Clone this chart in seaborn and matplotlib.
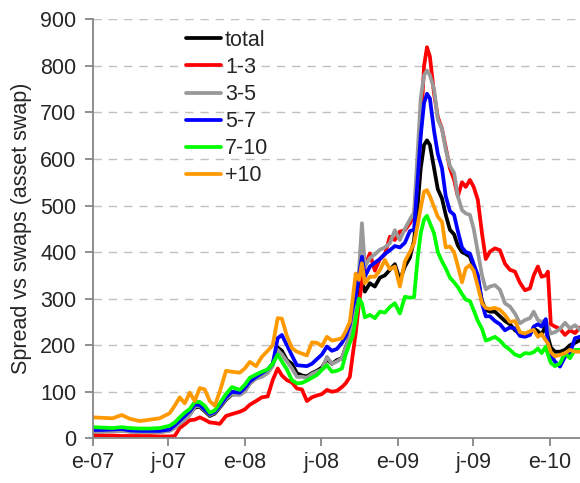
import matplotlib
matplotlib.use("Agg")
import matplotlib.pyplot as plt
import matplotlib.dates as mdates
from matplotlib.ticker import FuncFormatter
import seaborn as sns
import pandas as pd

dates = [
    "2007-01-01", "2007-01-24", "2007-02-17", "2007-03-11", "2007-03-30", "2007-04-23",
    "2007-05-17", "2007-06-10", "2007-07-04", "2007-07-16", "2007-07-28", "2007-08-09",
    "2007-08-21", "2007-09-02", "2007-09-14", "2007-09-26", "2007-10-08", "2007-10-20",
    "2007-11-01", "2007-11-16", "2007-11-30", "2007-12-19", "2007-12-31", "2008-01-12",
    "2008-01-27", "2008-02-10", "2008-02-24", "2008-03-07", "2008-03-19", "2008-03-29",
    "2008-04-10", "2008-04-22", "2008-05-04", "2008-05-16", "2008-05-28", "2008-06-09",
    "2008-06-21", "2008-07-03", "2008-07-15", "2008-07-27", "2008-08-08", "2008-08-20",
    "2008-08-29", "2008-09-08", "2008-09-15", "2008-09-22", "2008-09-30", "2008-10-07",
    "2008-10-14", "2008-10-26", "2008-11-07", "2008-11-19", "2008-12-01", "2008-12-13",
    "2008-12-25", "2009-01-06", "2009-01-18", "2009-01-30", "2009-02-09", "2009-02-18",
    "2009-02-25", "2009-03-05", "2009-03-12", "2009-03-19", "2009-03-29", "2009-04-07",
    "2009-04-17", "2009-04-26", "2009-05-06", "2009-05-16", "2009-05-25", "2009-06-04",
    "2009-06-13", "2009-06-23", "2009-07-02", "2009-07-12", "2009-07-22", "2009-07-31",
    "2009-08-10", "2009-08-22", "2009-09-03", "2009-09-15", "2009-09-27", "2009-10-09",
    "2009-10-21", "2009-11-02", "2009-11-14", "2009-11-23", "2009-12-03", "2009-12-12",
    "2009-12-22", "2009-12-27", "2010-01-03", "2010-01-13", "2010-01-25", "2010-02-06",
    "2010-02-18", "2010-03-02", "2010-03-14",
]

total = [15, 15, 16, 17, 15, 14, 14, 14, 17, 25, 34, 43, 52, 66, 68, 58, 48, 53, 66, 83,
         94, 95, 102, 118, 130, 137, 143, 160, 195, 188, 168, 160, 140, 135, 133, 140, 145,
         152, 170, 160, 168, 172, 195, 218, 250, 295, 320, 338, 315, 333, 326, 345, 350, 362,
         374, 340, 369, 388, 425, 505, 580, 630, 640, 630, 580, 535, 515, 480, 448, 438, 414,
         400, 396, 390, 367, 342, 295, 276, 272, 272, 262, 252, 245, 232, 225, 222, 225, 236,
         230, 222, 243, 218, 195, 186, 186, 190, 200, 205, 211]

y1_3 = [7, 6, 6, 5, 5, 5, 5, 4, 4, 5, 22, 30, 39, 40, 45, 40, 34, 33, 31, 48,
        52, 57, 62, 72, 80, 88, 90, 125, 150, 135, 125, 120, 107, 105, 80, 88, 92,
        95, 104, 100, 102, 110, 118, 132, 180, 225, 290, 335, 369, 397, 360, 385, 395, 433,
        426, 444, 447, 462, 480, 560, 660, 800, 840, 820, 740, 690, 665, 625, 580, 555, 520,
        550, 540, 555, 540, 512, 440, 385, 401, 408, 404, 375, 362, 358, 334, 318, 322, 350,
        369, 347, 350, 358, 245, 240, 235, 222, 232, 226, 238]

y3_5 = [14, 14, 15, 16, 14, 13, 13, 13, 16, 22, 32, 40, 50, 68, 70, 60, 50, 55, 68, 85,
        95, 93, 100, 118, 128, 132, 140, 155, 190, 180, 165, 150, 132, 132, 130, 138, 143,
        148, 175, 160, 165, 172, 195, 218, 260, 305, 360, 462, 369, 387, 395, 405, 410, 419,
        447, 426, 450, 470, 485, 620, 730, 780, 790, 780, 750, 685, 665, 620, 585, 570, 520,
        490, 483, 480, 450, 400, 350, 320, 326, 329, 319, 290, 283, 268, 247, 254, 258, 272,
        254, 250, 254, 240, 225, 228, 235, 248, 236, 243, 233]

y5_7 = [18, 18, 19, 20, 17, 16, 16, 16, 19, 28, 38, 48, 58, 72, 72, 62, 52, 57, 70, 88,
        100, 98, 108, 122, 132, 140, 148, 160, 215, 222, 200, 178, 157, 156, 155, 160, 170,
        180, 197, 188, 192, 205, 218, 245, 280, 305, 350, 390, 347, 369, 377, 385, 396, 404,
        413, 410, 420, 445, 448, 560, 650, 720, 740, 730, 660, 611, 580, 520, 488, 480, 445,
        410, 400, 397, 374, 350, 290, 262, 262, 252, 245, 232, 238, 236, 220, 218, 222, 240,
        245, 240, 256, 200, 178, 165, 154, 175, 183, 215, 218]

y7_10 = [24, 23, 22, 24, 22, 21, 21, 22, 27, 34, 45, 55, 63, 78, 78, 70, 55, 60, 75, 95,
         110, 104, 115, 130, 137, 143, 148, 160, 180, 165, 148, 125, 118, 119, 124, 130, 136,
         147, 157, 143, 145, 150, 180, 205, 220, 255, 300, 290, 260, 265, 258, 272, 270, 282,
         290, 268, 304, 302, 303, 390, 440, 470, 478, 462, 440, 400, 380, 365, 345, 335, 325,
         310, 298, 295, 275, 252, 235, 210, 213, 218, 210, 198, 190, 180, 176, 183, 182, 185,
         193, 183, 197, 180, 162, 155, 161, 183, 172, 190, 190]

y10p = [45, 44, 43, 50, 42, 37, 40, 43, 54, 70, 88, 75, 98, 80, 108, 105, 80, 70, 100, 145,
        143, 141, 150, 164, 155, 175, 188, 200, 258, 257, 220, 194, 186, 182, 178, 206, 205,
        198, 218, 210, 212, 215, 230, 250, 300, 354, 340, 376, 333, 347, 347, 361, 383, 363,
        369, 326, 380, 400, 419, 460, 495, 530, 533, 520, 497, 476, 465, 410, 412, 400, 370,
        335, 365, 372, 360, 326, 290, 280, 278, 280, 276, 265, 250, 252, 228, 225, 230, 233,
        218, 224, 210, 204, 185, 176, 179, 183, 190, 186, 186]

labels = ["total", "1-3", "3-5", "5-7", "7-10", "+10"]
colors = ["#000000", "#FF0000", "#999999", "#0000FF", "#00FF00", "#FF9900"]
series = [total, y1_3, y3_5, y5_7, y7_10, y10p]

sns.set_style("white")
plt.rcParams["font.family"] = ["Liberation Sans", "DejaVu Sans"]

fig = plt.figure(figsize=(5.8, 4.83), dpi=100)
ax = fig.add_axes([93 / 580, (483 - 438.3) / 483, 1 - 93 / 580, (438.3 - 19.3) / 483])

dt = pd.to_datetime(dates)
for lab, col, vals in zip(labels, colors, series):
    sns.lineplot(x=dt, y=vals, ax=ax, color=col, linewidth=2.7, label=lab)

ax.set_ylim(0, 900)
ax.set_yticks(range(0, 901, 100))
ax.set_xlim(pd.Timestamp("2007-01-01"), pd.Timestamp("2010-03-14"))
ax.xaxis.set_major_locator(mdates.MonthLocator(bymonth=[1, 7]))
ax.xaxis.set_major_formatter(FuncFormatter(
    lambda v, p: ("e" if mdates.num2date(v).month == 1 else "j") + "-" + mdates.num2date(v).strftime("%y")))

for yv in range(100, 901, 100):
    ax.axhline(yv, color="#c0c0c0", linewidth=1.0, linestyle=(0, (6, 5)), zorder=0)

for s in ["top", "right"]:
    ax.spines[s].set_visible(False)
for s in ["left", "bottom"]:
    ax.spines[s].set_color("#868686")
    ax.spines[s].set_linewidth(1.3)

ax.tick_params(axis="y", which="major", direction="out", length=6, width=1.3,
               color="#868686", labelsize=15.5, pad=6, left=True)
ax.tick_params(axis="x", which="major", direction="out", length=6, width=1.3,
               color="#868686", labelsize=15.5, pad=4, bottom=True)
ax.set_xlabel("")
ax.set_ylabel("Spread vs swaps (asset swap)", fontsize=15.5, labelpad=6)

leg = ax.legend(loc="upper left", bbox_to_anchor=(0.174, 0.995), frameon=False,
                fontsize=15.5, handlelength=1.6, handletextpad=0.2, labelspacing=0.28,
                borderaxespad=0)

fig.savefig("out.png", dpi=100)
